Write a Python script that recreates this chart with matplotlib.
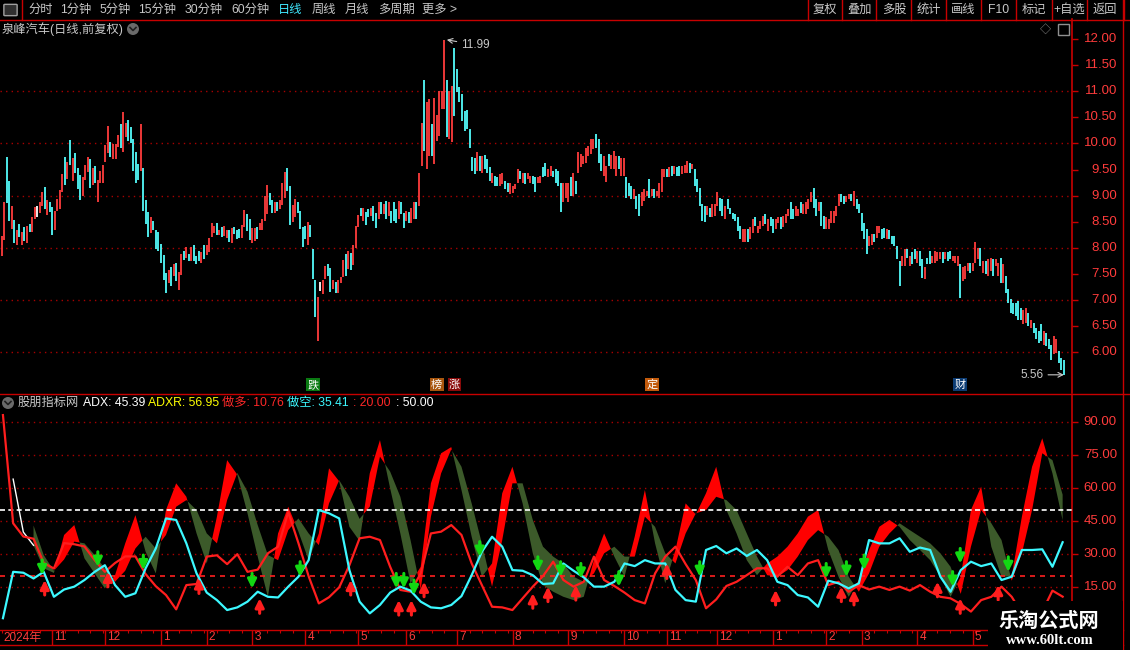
import numpy as np
import matplotlib
matplotlib.use('Agg')
import matplotlib.pyplot as plt
import matplotlib.patches as mpatches
import matplotlib.transforms as mtransforms
from matplotlib.lines import Line2D

plt.rcParams['font.family'] = ['Liberation Sans', 'Noto Sans CJK SC', 'DejaVu Sans']

W, H = 1130, 650

# ---------------- price bars (one per trading day) ----------------
opens = [
    7.85, 8.15, 9.74, 9.28, 8.36, 8.53, 8.05, 8.45, 8.05, 8.40,
    8.09, 8.45, 8.30, 8.55, 8.80, 8.67, 8.80, 9.17, 8.63, 8.88,
    8.78, 8.34, 8.70, 8.74, 9.07, 9.74, 9.32, 10.07, 9.28, 9.82,
    9.53, 9.40, 8.99, 9.30, 9.45, 9.70, 9.20, 9.57, 8.88, 9.24,
    9.24, 9.64, 9.82, 10.03, 9.70, 9.70, 9.93, 10.37, 9.84, 10.12,
    10.45, 10.32, 10.09, 9.84, 9.61, 9.47, 9.53, 8.92, 8.69, 8.28,
    8.51, 8.34, 8.30, 8.07, 7.86, 7.51, 7.32, 7.63, 7.46, 7.71,
    7.19, 7.48, 7.94, 7.80, 7.88, 7.74, 8.05, 7.84, 7.94, 7.71,
    8.05, 7.86, 7.92, 8.21, 8.28, 8.47, 8.24, 8.40, 8.22, 8.19,
    8.34, 8.09, 8.40, 8.34, 8.36, 8.19, 8.40, 8.65, 8.55, 8.09,
    8.13, 8.40, 8.34, 8.34, 8.51, 8.65, 9.05, 8.92, 8.67, 8.88,
    8.74, 8.82, 8.95, 9.53, 9.18, 8.49, 8.59, 8.88, 8.70, 8.40,
    8.42, 8.05, 8.44, 7.98, 7.38, 6.21, 7.34, 7.11, 7.40, 7.69,
    7.61, 7.21, 7.34, 7.13, 7.32, 7.44, 7.88, 7.59, 7.90, 7.67,
    8.00, 8.40,
    8.76, 8.51, 8.69, 8.74, 8.61, 8.80, 8.67, 8.55, 8.88, 8.64,
    8.89, 8.61, 8.70, 8.88, 8.74, 8.55, 8.87, 8.67, 8.51, 8.69,
    8.48, 8.55, 8.87, 8.80, 9.57, 11.22, 9.51, 9.76, 10.37, 9.60,
    10.05, 10.15, 10.66, 10.66, 11.21, 10.08, 10.02, 11.83, 11.43, 11.08,
    10.95, 10.63, 10.64, 10.28, 9.74, 9.73, 9.47, 9.76, 9.44, 9.78,
    9.70, 9.54, 9.25, 9.38, 9.35, 9.19, 9.22, 9.28, 9.24, 9.03,
    9.05, 9.12, 9.25, 9.47, 9.25, 9.44, 9.31, 9.25, 9.38, 9.35,
    9.24, 9.25, 9.54, 9.63, 9.35, 9.38, 9.47, 9.51, 9.47, 9.25,
    8.87, 8.96, 8.87, 9.35, 8.99, 9.28, 9.44, 9.54, 9.60, 9.63,
    9.76, 9.79, 9.89, 10.18, 10.08, 9.79, 9.38, 9.26, 9.79, 9.51,
    9.51, 9.38, 9.76, 9.38, 9.38, 9.35, 9.25, 9.19, 8.93, 8.99,
    9.03, 8.80, 8.90, 8.99, 9.31, 8.99, 9.12, 8.99, 8.96, 9.06,
    9.35, 9.51, 9.35, 9.57, 9.41, 9.54, 9.57, 9.41, 9.44, 9.44,
    9.63, 9.51, 9.51, 9.31, 9.14, 8.83, 8.80, 8.62, 8.77, 8.58,
    8.61, 8.80, 8.96, 8.93, 8.55, 8.93, 8.77, 8.67, 8.64, 8.58,
    8.42, 8.10, 8.10, 8.35, 8.16, 8.29, 8.58, 8.29, 8.35, 8.42,
    8.64, 8.32, 8.58, 8.55, 8.35, 8.48, 8.58, 8.39, 8.47, 8.61,
    8.87, 8.74, 8.61, 8.61, 8.87, 8.64, 8.64, 8.74, 8.87, 9.15,
    8.93, 8.71, 8.87, 8.61, 8.35, 8.35, 8.48, 8.48, 8.61, 8.80,
    9.03, 8.99, 8.87, 8.93, 9.03, 8.80, 8.93, 8.83, 8.67, 8.48,
    8.35, 8.03, 8.06, 8.26, 8.19, 8.29, 8.35, 8.37, 8.17, 8.34,
    8.23, 8.23, 8.03, 7.74, 7.65, 7.65, 7.97, 7.65, 7.91, 7.97,
    7.71, 7.94, 7.78, 7.39, 7.81, 7.94, 7.71, 7.71, 7.74, 7.78,
    7.91, 7.78, 7.91, 7.94, 7.74, 7.71, 7.65, 7.68, 7.36, 7.39,
    7.55, 7.71, 7.55, 7.71, 7.78, 8.00, 7.52, 7.74, 7.46, 7.55,
    7.78, 7.65, 7.46, 7.81, 7.33, 7.46, 7.20, 7.01, 6.94, 6.94,
    6.97, 6.85, 6.53, 6.56, 6.75, 6.46, 6.56, 6.46, 6.40, 6.53,
    6.14, 6.37, 6.24, 6.14, 5.95, 5.98, 6.01, 5.88, 5.85,
]
closes = [
    8.23, 8.88, 8.86, 8.51, 8.80, 8.09, 8.34, 8.20, 8.30, 8.13,
    8.42, 8.30, 8.59, 8.78, 8.59, 8.88, 9.06, 8.75, 8.92, 8.69,
    8.24, 8.70, 8.93, 9.11, 9.41, 9.20, 9.64, 9.59, 9.72, 9.43,
    9.13, 8.92, 9.36, 9.59, 9.74, 9.14, 9.53, 9.24, 9.30, 9.47,
    9.59, 9.97, 10.34, 9.74, 9.99, 9.99, 10.16, 9.91, 10.60, 10.39,
    10.05, 10.01, 9.47, 9.24, 9.30, 10.37, 8.70, 8.45, 8.21, 8.59,
    8.34, 7.98, 7.94, 7.70, 7.38, 7.13, 7.57, 7.26, 7.69, 7.36,
    7.53, 7.88, 7.76, 8.01, 7.74, 8.01, 7.74, 7.69, 7.74, 7.92,
    7.78, 8.05, 8.19, 8.47, 8.42, 8.24, 8.34, 8.21, 8.42, 8.34,
    8.11, 8.38, 8.26, 8.17, 8.19, 8.44, 8.72, 8.32, 8.15, 8.38,
    8.38, 8.17, 8.47, 8.55, 8.99, 9.20, 8.82, 8.67, 8.88, 8.70,
    8.92, 9.24, 9.45, 9.09, 8.44, 8.82, 8.93, 8.67, 8.36, 8.01,
    8.17, 8.49, 8.21, 7.40, 6.67, 7.05, 7.17, 7.38, 7.65, 7.46,
    7.15, 7.38, 7.13, 7.38, 7.44, 7.76, 7.46, 7.94, 7.57, 8.05,
    8.42, 8.63,
    8.61, 8.77, 8.43, 8.58, 8.77, 8.51, 8.37, 8.87, 8.64, 8.83,
    8.55, 8.88, 8.48, 8.51, 8.48, 8.89, 8.64, 8.37, 8.71, 8.47,
    8.77, 8.87, 8.55, 9.44, 10.39, 9.86, 10.80, 10.85, 9.76, 10.87,
    10.55, 11.01, 11.01, 11.99, 10.12, 11.01, 11.11, 10.53, 10.98, 10.79,
    10.44, 10.24, 10.28, 9.92, 9.47, 9.41, 9.83, 9.47, 9.76, 9.51,
    9.44, 9.28, 9.44, 9.19, 9.19, 9.41, 9.44, 9.12, 9.06, 9.25,
    9.19, 9.22, 9.51, 9.31, 9.44, 9.22, 9.44, 9.38, 9.22, 9.06,
    9.35, 9.38, 9.35, 9.38, 9.51, 9.57, 9.35, 9.25, 9.19, 8.69,
    9.25, 9.24, 9.25, 8.99, 9.44, 9.03, 9.83, 9.79, 9.76, 9.92,
    9.96, 10.08, 10.08, 9.92, 9.63, 9.47, 9.76, 9.57, 9.57, 9.78,
    9.86, 9.76, 9.51, 9.73, 9.73, 8.96, 8.99, 8.93, 9.12, 8.74,
    8.61, 9.06, 9.12, 9.09, 8.96, 9.12, 8.96, 9.09, 9.25, 9.51,
    9.51, 9.35, 9.54, 9.38, 9.57, 9.38, 9.38, 9.57, 9.58, 9.67,
    9.44, 9.60, 9.19, 9.06, 8.80, 8.51, 8.49, 8.80, 8.58, 8.83,
    8.83, 9.07, 8.71, 8.61, 8.80, 8.74, 8.64, 8.55, 8.51, 8.32,
    8.16, 8.35, 8.35, 8.10, 8.39, 8.55, 8.42, 8.42, 8.51, 8.61,
    8.45, 8.55, 8.42, 8.29, 8.55, 8.59, 8.35, 8.61, 8.64, 8.74,
    8.55, 8.55, 8.80, 8.74, 8.67, 8.83, 8.87, 8.93, 9.06, 8.77,
    8.61, 8.87, 8.42, 8.35, 8.58, 8.55, 8.71, 8.71, 8.80, 9.03,
    8.87, 8.83, 8.99, 9.03, 8.90, 9.09, 8.74, 8.67, 8.32, 8.16,
    7.87, 8.23, 8.26, 8.10, 8.42, 8.42, 8.17, 8.19, 8.35, 8.16,
    8.07, 8.03, 7.78, 7.26, 7.84, 7.97, 7.81, 7.84, 7.68, 7.78,
    7.94, 7.65, 7.42, 7.62, 7.68, 7.68, 7.84, 7.94, 7.91, 7.91,
    7.71, 7.92, 7.74, 7.78, 7.84, 7.84, 7.84, 7.04, 7.62, 7.65,
    7.71, 7.52, 7.71, 8.10, 8.00, 7.65, 7.74, 7.49, 7.78, 7.81,
    7.46, 7.78, 7.71, 7.33, 7.68, 7.13, 6.94, 6.75, 6.72, 6.69,
    6.62, 6.62, 6.81, 6.85, 6.49, 6.62, 6.37, 6.24, 6.17, 6.21,
    6.40, 6.11, 6.05, 5.85, 6.30, 6.24, 5.79, 5.66, 5.56,
]
flat_bars = [14, 126]          # open == close days (drawn white)
peak_bar, peak_price = 176, 11.99
low_bar, low_price = 420, 5.56

# event tags under the price panel
event_bars = [123, 172, 179, 257, 379]
event_text = ['跌', '榜', '涨', '定', '财']
event_colors = ['#0a7a12', '#a8560e', '#8a0a0a', '#c25a0c', '#0c3c74']

# month axis
month_bars = [20, 41, 63, 81, 99, 120, 141, 160, 180, 202, 224, 246, 263, 283, 305, 326, 340, 362, 384]
month_labels = ['11', '12', '1', '2', '3', '4', '5', '6', '7', '8', '9', '10', '11', '12', '1', '2', '3', '4', '5']

# ---------------- DMI indicator (sampled every ~4 bars) ----------------
adx = [
    np.nan, 64, 40, 34, 23.6, 21.5, 38.7, 43.2, 28.1, 21.3,
    14.5, 20.5, 34.9, 47.7, 31.1, 21.3, 50, 62.1, 56, 39.4,
    25.8, 47, 72.6, 66, 48.5, 28.9, 10.7, 39.4, 51.5, 40.2,
    27.3, 39.4, 68.9, 63, 42.4, 36, 66.6, 81.7, 59.8, 39.4,
    16.8, 24.3, 62.1, 75.7, 78.5, 59.1, 37.9, 19.8, 25.8, 57.6,
    69.6, 53, 30.4, 16, 13, 10.7, 9.2, 10.7, 27.3, 39.4,
    28.9, 19.8, 37.9, 59.1, 34.9, 16.8, 31.9, 53, 48, 57.6,
    69.6, 50, 39.4, 27.3, 20.5, 25.8, 28.9, 33.4, 39.4, 47,
    50, 31.9, 19.8, 10.7, 18.3, 31.9, 42.4, 45.5, 42.4, 36.4,
    31.9, 27.3, 19.8, 10.7, 19.8, 50, 60.6, 33.4, 19.8, 20,
    47, 69.6, 82.5, 66.6, 45.39,
]
adxr = [
    np.nan, np.nan, np.nan, 43, 29.6, 22.5, 27.6, 35.7, 34.9, 29.6,
    23.6, 17.5, 22.5, 32.6, 37.9, 32.6, 38.7, 51.5, 54.5, 50,
    39.4, 34.9, 54.5, 66.8, 58.3, 43.2, 29.6, 27.3, 40.9, 46.2,
    39.4, 34.1, 53, 63.5, 56, 46, 51.5, 74.2, 67.4, 56,
    36.4, 14, 47, 66.6, 77.5, 69.6, 53, 34.9, 15.3, 36.4,
    62.1, 62.1, 45.5, 33.4, 28.9, 25.8, 19.8, 17.5, 21.3, 30.4,
    33.4, 28.9, 28.9, 47, 42.4, 30.4, 25.8, 39.4, 48.5, 50,
    56, 54.5, 50, 39.4, 28.9, 20.5, 19.8, 22.8, 28.9, 36.4,
    40.9, 37.9, 31.9, 19.8, 13, 21.3, 33.4, 39.4, 44, 40.9,
    37.9, 34.9, 30.4, 24.3, 12, 33.4, 50, 44, 36.4, 18,
    30.4, 50, 75.7, 72.6, 56.95,
]
pdi = [
    93, 44, 38, 37, 26, 23.5, 35, 34.5, 33.5, 27.3,
    22, 26, 29, 29, 21, 15.5, 11.5, 5, 16, 16.5,
    28.9, 29.5, 25.5, 30, 22, 23, 30.4, 33.4, 49, 35,
    20, 7.7, 10.5, 15, 25, 37.2, 37.9, 36.4, 24.3, 13.8,
    13, 21.3, 39.4, 40.2, 43.2, 38.7, 25.8, 16, 6.2, 5.9,
    4.7, 10, 15.3, 20.1, 26.6, 18.3, 15.3, 17.5, 28.9, 18.3,
    15.6, 12.6, 9.2, 7.7, 21.3, 28.9, 33.4, 25.5, 18.3, 5.5,
    9.5, 15.6, 17.5, 20.5, 23.6, 23.6, 19.8, 24.3, 20.5, 25.8,
    27.3, 16, 17.5, 13, 16, 14, 15.3, 13.8, 15.3, 13.5,
    16, 13, 10.7, 10, 7.4, 4, 9.2, 10.7, 15.3, 10.7,
    3.2, 1.7, 4, 13.5, 10.76,
]
mdi = [
    1, 22, 21.6, 19, 22, 10.7, 14, 15.3, 18.3, 22,
    25, 16, 10.7, 12.3, 23.6, 32.6, 46.2, 45.5, 34.9, 21.3,
    12.6, 9.2, 4.7, 5.9, 8.5, 13, 10.7, 10.4, 15.3, 19.8,
    27.3, 50, 48.5, 46.2, 22.8, 8.5, 3.2, 7, 12.6, 15.3,
    13.5, 8.5, 5.9, 5.5, 7, 11, 20.5, 31.1, 37.9, 33.4,
    22.8, 22.5, 20.5, 16.5, 16.8, 25.8, 22.5, 19.5, 15.3, 15.3,
    17.5, 25.8, 24.6, 27.3, 25.8, 25.8, 13.8, 9.2, 8.5, 31.9,
    33.7, 30.4, 32.6, 29.2, 31.9, 27.3, 17.5, 16, 11.5, 10.4,
    6.2, 18, 16.8, 14.5, 16.8, 36.4, 34.9, 34.9, 37.2, 31.1,
    33, 31.9, 19.8, 13, 22.8, 26.6, 24.6, 25.8, 18.3, 19.8,
    31.9, 31.9, 32.2, 24.3, 35.41,
]
buy_arrow_bars = [16, 38, 56, 99, 118, 156, 159, 163, 189, 212, 221, 229, 244, 276, 326, 334, 341, 376, 379, 398]
buy_arrow_vals = [20.6, 24.3, 22.8, 14.5, 19.8, 14.5, 14.5, 11.5, 28.9, 22, 19.8, 19, 15.3, 19.8, 19, 19.8, 22.8, 15.3, 25.8, 22]
sell_arrow_bars = [17, 42, 78, 102, 138, 157, 162, 167, 210, 216, 227, 263, 306, 332, 337, 370, 379, 394]
sell_arrow_vals = [18.3, 22, 19, 10, 18.3, 9.2, 9.2, 17.5, 12.3, 15.3, 16, 25.8, 13.8, 15.3, 13.8, 17.5, 10, 16]

price_ticks = [6.0, 6.5, 7.0, 7.5, 8.0, 8.5, 9.0, 9.5, 10.0, 10.5, 11.0, 11.5, 12.0]
price_grid = [6, 7, 8, 9, 10, 11]
ind_ticks = [15, 30, 45, 60, 75, 90]

toolbar_left = ['分时', '1分钟', '5分钟', '15分钟', '30分钟', '60分钟', '日线', '周线', '月线', '多周期', '更多 >']
toolbar_right = ['复权', '叠加', '多股', '统计', '画线', 'F10', '标记', '+自选', '返回']

# ---------------- style ----------------
BG = 'black'
AXIS = '#c80000'
GRID = '#a80000'
RED_TXT = '#ff3c3c'
UP = '#ff3c3c'
DOWN = '#54fcfc'
TXT = '#c8c8c8'


def fx(px):
    return px / W


def fy(py):
    return 1 - py / H


fig = plt.figure(figsize=(W / 100, H / 100), dpi=100, facecolor=BG)


def hline_px(y, x0, x1, color=AXIS, lw=1.0, z=2):
    fig.add_artist(Line2D([fx(x0), fx(x1)], [fy(y), fy(y)], color=color, lw=lw,
                          transform=fig.transFigure, zorder=z))


def vline_px(x, y0, y1, color=AXIS, lw=1.0, z=2):
    fig.add_artist(Line2D([fx(x), fx(x)], [fy(y0), fy(y1)], color=color, lw=lw,
                          transform=fig.transFigure, zorder=z))


def text_px(x, y, s, **kw):
    kw.setdefault('va', 'center')
    kw.setdefault('ha', 'left')
    kw.setdefault('fontsize', 8.5)
    kw.setdefault('color', TXT)
    fig.text(fx(x), fy(y), s, **kw)


n = min(len(opens), len(closes))
o = np.array(opens[:n])
c = np.array(closes[:n])
idx = np.arange(n)
XLIM = (-0.67, 423.2)

# ---------------- price panel ----------------
ax1 = fig.add_axes([0, fy(393), fx(1072), (393 - 19.5) / H])
ax1.set_facecolor(BG)
for g in price_grid:
    ax1.axhline(g, color=GRID, lw=1.0, ls=(0, (1, 3)), zorder=0)
cols = ['#ffffff' if i in flat_bars else (UP if c[i] > o[i] else DOWN) for i in range(n)]
ax1.vlines(idx, np.minimum(o, c), np.maximum(o, c), colors=cols, lw=1.3, zorder=2)
ax1.set_xlim(*XLIM)
ax1.set_ylim(5.211, 12.380)

ax1.annotate('11.99', xy=(peak_bar, peak_price), xytext=(14, -5), textcoords='offset pixels',
             color=TXT, fontsize=8.5, ha='left', va='center',
             arrowprops=dict(arrowstyle='->', color=TXT, lw=0.8, shrinkA=1, shrinkB=0))
ax1.annotate(f'{low_price:.2f}', xy=(low_bar, low_price), xytext=(-20, 0), textcoords='offset pixels',
             color=TXT, fontsize=8.5, ha='right', va='center',
             arrowprops=dict(arrowstyle='->', color=TXT, lw=0.8, shrinkA=1, shrinkB=0))

ev_tr = mtransforms.blended_transform_factory(ax1.transData, ax1.transAxes)
for b, t, col in zip(event_bars, event_text, event_colors):
    ax1.text(b, 0.022, t, transform=ev_tr, ha='center', va='center', color='white', fontsize=8,
             bbox=dict(boxstyle='square,pad=0.12', fc=col, ec='none'))

# ---------------- indicator panel ----------------
ax2 = fig.add_axes([0, fy(630), fx(1072), (630 - 395) / H])
ax2.set_facecolor(BG)
xk = np.linspace(0.5, 419.5, len(adx))
a = np.array(adx, dtype=float)
r = np.array(adxr, dtype=float)
for g in ind_ticks:
    ax2.axhline(g, color=GRID, lw=1.0, ls=(0, (1, 3)), zorder=0)
ax2.fill_between(xk, a, r, where=a >= r, interpolate=True, color='#ff0000', lw=0, zorder=1)
ax2.fill_between(xk, a, r, where=a < r, interpolate=True, color='#3c5a2a', lw=0, zorder=1)
ax2.plot(xk[:4], a[:4], color='white', lw=1.0, zorder=2)
ax2.axhline(50, color='white', lw=1.2, ls=(0, (3, 2)), zorder=3)
ax2.axhline(20, color='#ff2020', lw=1.2, ls=(0, (3, 3)), zorder=3)
ax2.plot(xk, pdi, color='#ff1e1e', lw=1.6, zorder=4)
ax2.plot(xk, mdi, color='#3cf8ff', lw=1.6, zorder=4)
for b, v in zip(buy_arrow_bars, buy_arrow_vals):
    ax2.annotate('', xy=(b, v), xytext=(0, 15), textcoords='offset pixels', zorder=5,
                 arrowprops=dict(arrowstyle='-|>', color='#12d812', lw=2.2, mutation_scale=13,
                                 shrinkA=0, shrinkB=0))
for b, v in zip(sell_arrow_bars, sell_arrow_vals):
    ax2.annotate('', xy=(b, v), xytext=(0, -15), textcoords='offset pixels', zorder=5,
                 arrowprops=dict(arrowstyle='-|>', color='#ff1e1e', lw=2.2, mutation_scale=13,
                                 shrinkA=0, shrinkB=0))
ax2.set_xlim(*XLIM)
ax2.set_ylim(-4.34, 102.1)

for ax, ticks, fmt in ((ax1, price_ticks, '{:.2f}'), (ax2, ind_ticks, '{:.2f}')):
    for s in ('top', 'left', 'bottom'):
        ax.spines[s].set_visible(False)
    ax.spines['right'].set_color(AXIS)
    ax.spines['right'].set_linewidth(1.2)
    ax.set_xticks([])
    ax.yaxis.tick_right()
    ax.set_yticks(ticks)
    ax.tick_params(axis='y', length=4, width=1, color=AXIS, labelright=False, direction='out')
    tr = mtransforms.blended_transform_factory(ax.transAxes, ax.transData)
    for t in ticks:
        ax.text(1117 / 1072, t, fmt.format(t), transform=tr, ha='right', va='center',
                color=RED_TXT, fontsize=9.5)

# ---------------- date strip ----------------
ax3 = fig.add_axes([0, fy(645), fx(1072), 15 / H])
ax3.set_facecolor(BG)
ax3.set_xlim(*XLIM)
ax3.set_ylim(0, 1)
ax3.axis('off')
ax3.vlines(month_bars, 0, 1, color=AXIS, lw=1.0)
ax3.vlines(np.arange(0, n, 5), 0.78, 1.0, color=AXIS, lw=0.8)
ax3.text(0.5, 0.5, '2024年', color=RED_TXT, fontsize=8.5, ha='left', va='center')
for b, lab in zip(month_bars, month_labels):
    ax3.text(b + 0.8, 0.5, lab, color=RED_TXT, fontsize=8.5, ha='left', va='center')
hline_px(630, 0, 1123)
hline_px(645, 0, 1123)

# ---------------- frame lines, toolbar ----------------
hline_px(19.5, 0, 1130)
hline_px(394, 0, 1130)
vline_px(1123, 0, 650)
vline_px(21.5, 0, 19.5)
fig.add_artist(mpatches.FancyBboxPatch((fx(5), fy(15)), fx(11), 10 / H, boxstyle='round,pad=0.001',
                                       fc='#303030', ec='#a0a0a0', lw=1, transform=fig.transFigure))

left_x = [28, 60, 100, 138, 185, 231, 278, 312, 345, 378, 422]
for x, s in zip(left_x, toolbar_left):
    text_px(x, 10, s, color='#40e8ff' if s == '日线' else TXT, fontsize=8.8)

seps = [807.6, 841.8, 876.4, 911.3, 946, 981, 1016, 1051.6, 1086.5, 1123.6]
for s in seps:
    vline_px(s, 0, 19.5)
for i, s in enumerate(toolbar_right):
    text_px((seps[i] + seps[i + 1]) / 2, 10, s, ha='center', fontsize=8.8)

# title rows
text_px(2, 29, '泉峰汽车(日线,前复权)', fontsize=8.8)
text_px(1045, 29, '◇', color='#909090', ha='center', fontsize=8)
fig.add_artist(mpatches.Rectangle((fx(1058), fy(35)), fx(11), 11 / H, fc='none', ec='#909090', lw=1,
                                  transform=fig.transFigure))
for cx, cy in ((133, 29), (8, 403)):
    fig.add_artist(mpatches.Ellipse((fx(cx), fy(cy)), 12 / W, 12 / H, fc='#6a6a6a', ec='none',
                                    transform=fig.transFigure, zorder=3))
    fig.add_artist(Line2D([fx(cx - 3), fx(cx), fx(cx + 3)], [fy(cy - 1.5), fy(cy + 1.5), fy(cy - 1.5)],
                          color='#202020', lw=1.2, transform=fig.transFigure, zorder=4))

legend_parts = [(18, '股朋指标网', TXT), (83, 'ADX: 45.39', '#ffffff'), (148, 'ADXR: 56.95', '#ffff00'),
                (222, '做多: 10.76', '#ff2828'), (287, '做空: 35.41', '#3cf8ff'),
                (353, ': 20.00', '#ff2828'), (396, ': 50.00', '#ffffff')]
for x, s, col in legend_parts:
    text_px(x, 403, s, color=col, fontsize=8.8)

# watermark
fig.add_artist(mpatches.Rectangle((fx(988), 0), fx(1123) - fx(988), fy(601), fc=BG, ec='none',
                                  transform=fig.transFigure, zorder=10))
fig.text(fx(1049), fy(620), '乐淘公式网', color='white', fontsize=14.5, fontweight='bold',
         family=['Noto Sans CJK SC', 'DejaVu Sans'], ha='center', va='center', zorder=11)
fig.text(fx(1050), fy(641), 'www.60lt.com', color='white', fontsize=10.5, fontweight='bold',
         family=['Liberation Serif', 'DejaVu Serif'], ha='center', va='center', zorder=11)

fig.savefig('out.png', dpi=100, facecolor=BG)
